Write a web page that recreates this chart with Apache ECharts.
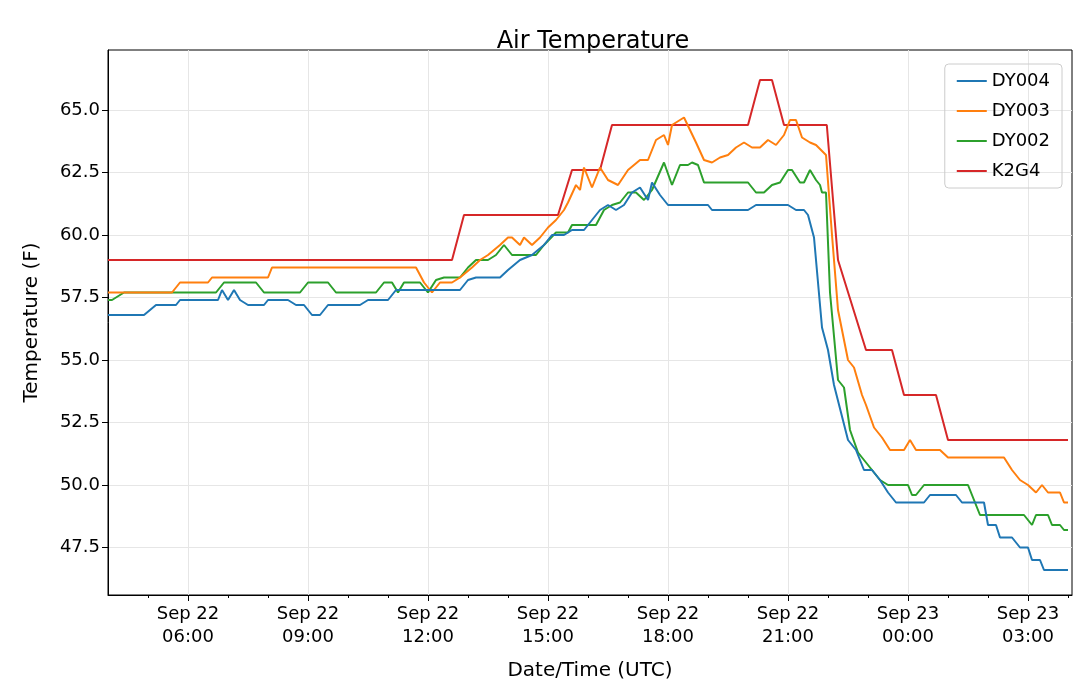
<!DOCTYPE html>
<html>
<head>
<meta charset="utf-8">
<script src="https://cdn.jsdelivr.net/npm/echarts@6/dist/echarts.min.js"></script>
<style>html,body{margin:0;background:#fff}#chart{width:1080px;height:688px}</style>
</head>
<body>
<div id="chart"></div>
<script>
// hours since Sep 22 00:00 UTC, temperature F
var dy004 = [[4.0,56.8],[4.9,56.8],[5.2,57.2],[5.7,57.2],[5.8,57.4],[6.75,57.4],[6.85,57.8],[7.0,57.4],[7.15,57.8],[7.3,57.4],[7.5,57.2],[7.9,57.2],[8.0,57.4],[8.5,57.4],[8.7,57.2],[8.9,57.2],[9.1,56.8],[9.3,56.8],[9.5,57.2],[10.3,57.2],[10.5,57.4],[11.0,57.4],[11.2,57.8],[12.8,57.8],[13.0,58.2],[13.2,58.3],[13.8,58.3],[14.0,58.6],[14.3,59.0],[14.6,59.2],[14.9,59.6],[15.1,60.0],[15.4,60.0],[15.6,60.2],[15.9,60.2],[16.1,60.6],[16.3,61.0],[16.5,61.2],[16.7,61.0],[16.9,61.2],[17.1,61.7],[17.3,61.9],[17.5,61.4],[17.6,62.1],[17.8,61.6],[18.0,61.2],[19.0,61.2],[19.1,61.0],[20.0,61.0],[20.2,61.2],[21.0,61.2],[21.2,61.0],[21.4,61.0],[21.5,60.8],[21.65,59.9],[21.85,56.3],[22.0,55.4],[22.15,54.0],[22.5,51.8],[22.7,51.4],[22.9,50.6],[23.1,50.6],[23.3,50.2],[23.5,49.7],[23.7,49.3],[24.4,49.3],[24.55,49.6],[25.2,49.6],[25.35,49.3],[25.9,49.3],[26.0,48.4],[26.2,48.4],[26.3,47.9],[26.6,47.9],[26.8,47.5],[27.0,47.5],[27.1,47.0],[27.3,47.0],[27.4,46.6],[28.0,46.6]];
var dy003 = [[4.0,57.7],[5.6,57.7],[5.8,58.1],[6.5,58.1],[6.6,58.3],[8.0,58.3],[8.1,58.7],[11.7,58.7],[11.9,58.1],[12.1,57.7],[12.3,58.1],[12.6,58.1],[12.8,58.3],[13.1,58.7],[13.3,59.0],[13.5,59.2],[13.8,59.6],[14.0,59.9],[14.1,59.9],[14.3,59.6],[14.4,59.9],[14.6,59.6],[14.8,59.9],[15.0,60.3],[15.2,60.6],[15.4,61.0],[15.5,61.3],[15.7,62.0],[15.8,61.8],[15.9,62.7],[16.1,61.9],[16.3,62.7],[16.5,62.2],[16.75,62.0],[17.0,62.6],[17.3,63.0],[17.5,63.0],[17.7,63.8],[17.9,64.0],[18.0,63.6],[18.1,64.4],[18.3,64.6],[18.4,64.7],[18.7,63.7],[18.9,63.0],[19.1,62.9],[19.3,63.1],[19.5,63.2],[19.7,63.5],[19.9,63.7],[20.1,63.5],[20.3,63.5],[20.5,63.8],[20.7,63.6],[20.9,64.0],[21.0,64.4],[21.05,64.6],[21.2,64.6],[21.35,63.9],[21.55,63.7],[21.7,63.6],[21.95,63.2],[22.1,60.0],[22.25,57.0],[22.5,55.0],[22.65,54.7],[22.85,53.6],[22.95,53.2],[23.15,52.3],[23.35,51.9],[23.55,51.4],[23.9,51.4],[24.05,51.8],[24.2,51.4],[24.8,51.4],[25.0,51.1],[26.4,51.1],[26.6,50.6],[26.8,50.2],[27.0,50.0],[27.2,49.7],[27.35,50.0],[27.5,49.7],[27.8,49.7],[27.9,49.3],[28.0,49.3]];
var dy002 = [[4.0,57.4],[4.1,57.4],[4.4,57.7],[6.7,57.7],[6.9,58.1],[7.7,58.1],[7.9,57.7],[8.8,57.7],[9.0,58.1],[9.5,58.1],[9.7,57.7],[10.7,57.7],[10.9,58.1],[11.1,58.1],[11.25,57.7],[11.4,58.1],[11.8,58.1],[12.0,57.7],[12.2,58.2],[12.4,58.3],[12.8,58.3],[13.0,58.7],[13.2,59.0],[13.5,59.0],[13.7,59.2],[13.9,59.6],[14.1,59.2],[14.7,59.2],[14.9,59.6],[15.2,60.1],[15.5,60.1],[15.6,60.4],[16.2,60.4],[16.4,61.0],[16.6,61.2],[16.8,61.3],[17.0,61.7],[17.2,61.7],[17.4,61.4],[17.6,61.8],[17.9,62.9],[18.1,62.0],[18.3,62.8],[18.5,62.8],[18.6,62.9],[18.75,62.8],[18.9,62.1],[20.0,62.1],[20.2,61.7],[20.4,61.7],[20.6,62.0],[20.8,62.1],[21.0,62.6],[21.1,62.6],[21.3,62.1],[21.4,62.1],[21.55,62.6],[21.7,62.2],[21.8,62.0],[21.85,61.7],[21.95,61.7],[22.05,57.7],[22.25,54.2],[22.4,53.9],[22.55,52.2],[22.75,51.3],[22.9,51.0],[23.1,50.6],[23.3,50.2],[23.5,50.0],[24.0,50.0],[24.1,49.6],[24.2,49.6],[24.4,50.0],[25.5,50.0],[25.6,49.6],[25.8,48.8],[26.9,48.8],[27.1,48.4],[27.2,48.8],[27.5,48.8],[27.6,48.4],[27.8,48.4],[27.9,48.2],[28.0,48.2]];
var k2g4 = [[4.0,59.0],[12.6,59.0],[12.9,60.8],[15.25,60.8],[15.6,62.6],[16.3,62.6],[16.6,64.4],[20.0,64.4],[20.3,66.2],[20.6,66.2],[20.9,64.4],[21.97,64.4],[22.25,59.0],[22.95,55.4],[23.6,55.4],[23.9,53.6],[24.7,53.6],[25.0,51.8],[28.0,51.8]];
var majorHours = [6, 9, 12, 15, 18, 21, 24, 27];
var minorHours = [];
for (var h = 5; h <= 28; h++) minorHours.push(h);
var yTicks = [47.5, 50, 52.5, 55, 57.5, 60, 62.5, 65];
var names = ['DY004', 'DY003', 'DY002', 'K2G4'];
var colors = ['#1f77b4', '#ff7f0e', '#2ca02c', '#d62728'];
var allData = [dy004, dy003, dy002, k2g4];

function pad(n) { return (n < 10 ? '0' : '') + n; }
var series = allData.map(function (d, i) {
    return { name: names[i], type: 'line', data: d, showSymbol: false, color: colors[i],
             lineStyle: { width: 2 }, xAxisIndex: 0, z: 3 - i };
});
var chart = echarts.init(document.getElementById('chart'));
chart.setOption({
    animation: false,
    textStyle: { fontFamily: 'DejaVu Sans' },
    title: { text: 'Air Temperature', left: 588, top: 25, textAlign: 'center',
             textStyle: { fontSize: 24, fontWeight: 'normal', color: '#000' } },
    legend: { data: names, orient: 'vertical', right: 18, top: 64, itemWidth: 30, itemHeight: 10, itemGap: 12,
              icon: 'path://M0,4 L30,4 L30,6 L0,6 Z',
              textStyle: { fontSize: 18, color: '#000' }, borderColor: '#ccc', borderWidth: 1, borderRadius: 4, padding: [8, 12] },
    grid: { left: 108, right: 8, top: 50, bottom: 93, show: true, borderColor: '#000', borderWidth: 1 },
    xAxis: [{
        type: 'value', min: 4, max: 28.1,
        name: 'Date/Time (UTC)', nameLocation: 'middle', nameGap: 66, nameTextStyle: { fontSize: 20, color: '#000' },
        axisLine: { lineStyle: { color: '#000' } },
        axisTick: { customValues: majorHours, length: 6, lineStyle: { color: '#000' } },
        axisLabel: { customValues: majorHours, fontSize: 18, color: '#000', lineHeight: 23,
            formatter: function (v) { return (v >= 24 ? 'Sep 23' : 'Sep 22') + '\n' + pad(v % 24) + ':00'; } },
        splitLine: { show: true, lineStyle: { color: '#e6e6e6' } }
    }, {
        type: 'value', min: 4, max: 28.1, position: 'bottom',
        axisLine: { show: false }, axisLabel: { show: false }, splitLine: { show: false },
        axisTick: { customValues: minorHours, length: 3, lineStyle: { color: '#000' } }
    }],
    yAxis: {
        type: 'value', min: 45.6, max: 67.4, interval: 2.5,
        name: 'Temperature (F)', nameLocation: 'middle', nameGap: 66, nameTextStyle: { fontSize: 20, color: '#000' },
        axisLine: { show: true, lineStyle: { color: '#000' } },
        axisTick: { show: true, customValues: yTicks, length: 6, lineStyle: { color: '#000' } },
        axisLabel: { customValues: yTicks, fontSize: 18, color: '#000',
            formatter: function (v) { return v.toFixed(1); } },
        splitLine: { show: true, lineStyle: { color: '#e6e6e6' } }
    },
    series: series
});
</script>
</body>
</html>
